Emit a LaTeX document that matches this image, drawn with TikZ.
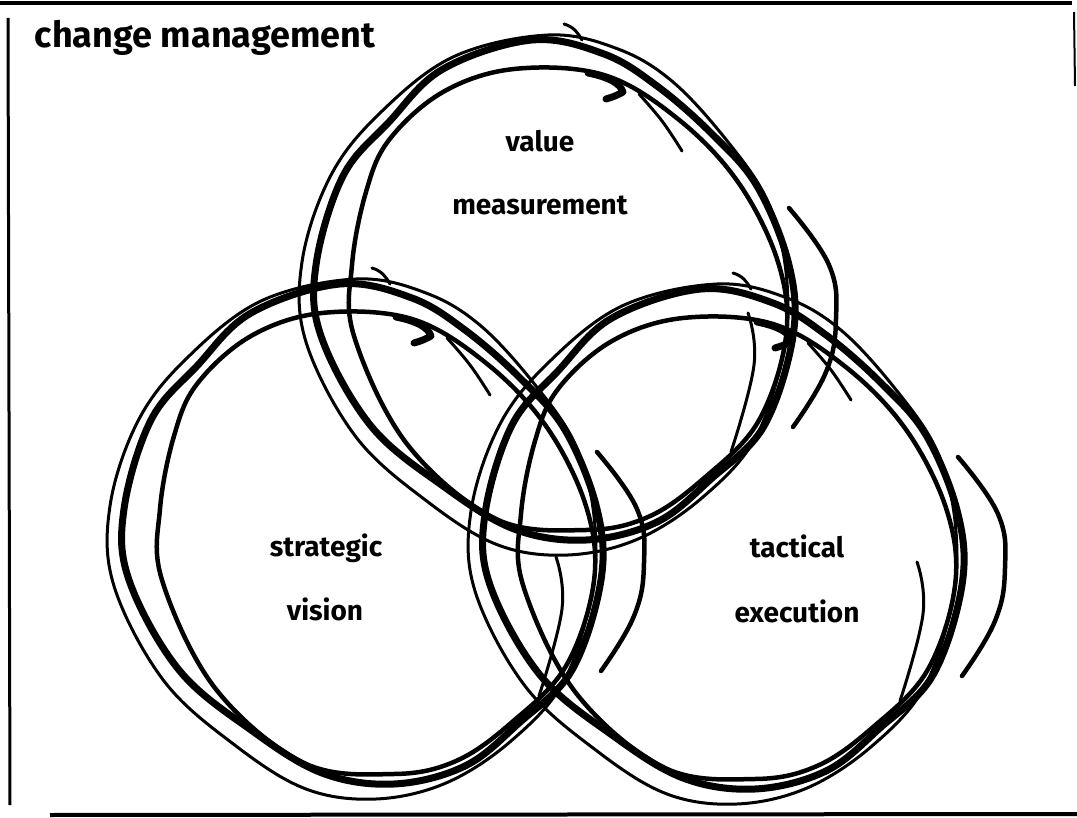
\documentclass[tikz,border=0pt]{standalone}
\usepackage{fontspec}
\setmainfont{Fira Sans}

\tikzset{
  ink/.style={line width=7pt, line cap=round, line join=round},
  thinink/.style={line width=4.5pt, line cap=round, line join=round},
  faintink/.style={line width=3pt, line cap=round, line join=round},
  scrawl/.style={font=\fontsize{28}{34}\selectfont\bfseries, inner sep=0pt},
  titlescrawl/.style={font=\fontsize{36}{42}\selectfont\bfseries, inner sep=0pt},
}

% one hand-drawn loop, centred at #1,#2
\newcommand{\sketchcircle}[2]{%
  \begin{scope}[shift={(#1,#2)}]
    % main stroke
    \draw[ink] plot[smooth cycle, tension=0.6] coordinates {
      (-46,-247) (26,-233) (79,-201) (133,-154) (179,-101) (211,-22)
      (215,49) (186,139) (133,192) (79,235) (8,253) (-64,242)
      (-135,199) (-207,139) (-257,49) (-262,-22) (-235,-111) (-189,-165)
      (-135,-218)};
    % second pass, a bit inside
    \draw[thinink] plot[smooth cycle, tension=0.6] coordinates {
      (-64,-218) (26,-212) (100,-168) (160,-105) (200,-25) (208,50)
      (180,135) (125,192) (70,230) (8,243) (-82,232) (-171,157)
      (-224,49) (-226,-22) (-212,-95) (-189,-147) (-135,-195)};
    % third pass, loose and thin
    \draw[faintink] plot[smooth cycle, tension=0.6] coordinates {
      (-30,-252) (40,-238) (95,-205) (150,-145) (190,-85) (208,-15)
      (206,60) (178,150) (125,210) (60,252) (-10,268) (-80,258)
      (-150,215) (-222,150) (-272,55) (-276,-25) (-248,-110) (-200,-172)
      (-125,-230)};
    % outer right stroke
    \draw[thinink] plot[smooth, tension=0.7] coordinates {
      (211,-79) (251,-22) (258,32) (248,85) (215,140)};
    % inner right stroke
    \draw[faintink] plot[smooth, tension=0.7] coordinates {
      (170,26) (176,78) (153,165)};
    % ragged stroke upper right
    \draw[faintink] plot[smooth, tension=0.7] coordinates {
      (61,-193) (84,-166) (104,-136)};
    % hook at the end of the inner stroke
    \draw[ink] (10,-214) .. controls (30,-210) and (42,-204) .. (45,-195)
      .. controls (40,-192) and (35,-190) .. (28,-188);
    % flick above the top
    \draw[faintink] (-14,-263) .. controls (-4,-260) and (0,-254) .. (4,-247);
  \end{scope}}

\begin{document}
\begin{tikzpicture}[x=1pt, y=-1pt]
  \useasboundingbox (0,0) rectangle (1077,818);

  % frame
  \draw[line width=3.5pt] (0,3) -- (1072,3);
  \draw[line width=3pt] (8,18) -- (10,805);
  \draw[line width=4pt] (50,815) -- (1077,814);
  \draw[line width=2pt] (1074,12) -- (1075,86);

  % the three loops
  \sketchcircle{578}{287}
  \sketchcircle{386}{531}
  \sketchcircle{747}{536}

  % labels
  \node[titlescrawl] (title) at (205,38) {change management};
  \node[scrawl] (value) at (540,141) {value};
  \node[scrawl] (measure) at (540,205) {measurement};
  \node[scrawl] (strat) at (326,548) {strategic};
  \node[scrawl] (vision) at (325,609) {vision};
  \node[scrawl] (tact) at (797,546) {tactical};
  \node[scrawl] (exec) at (797,611) {execution};
\end{tikzpicture}
\end{document}
